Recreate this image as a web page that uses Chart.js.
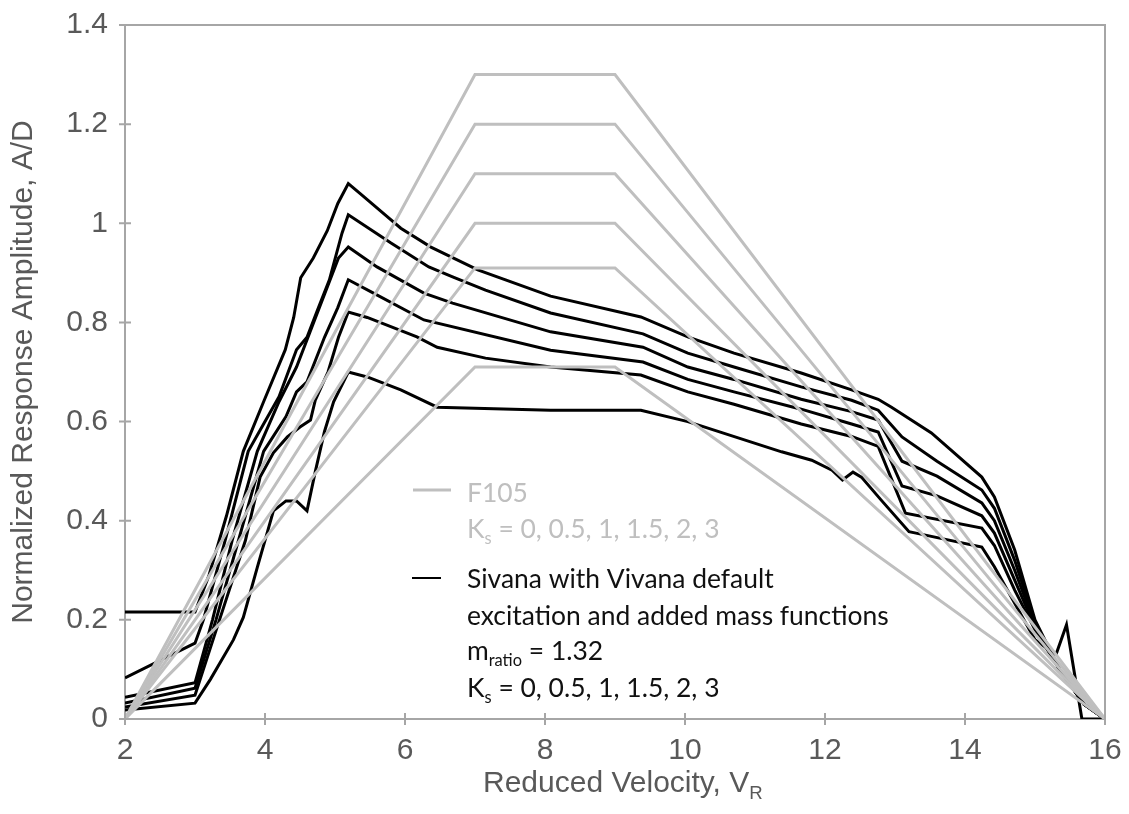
<!DOCTYPE html>
<html>
<head>
<meta charset="utf-8">
<script src="https://cdn.jsdelivr.net/npm/chart.js@4.4.1/dist/chart.umd.min.js"></script>
<style>
  html, body { margin: 0; padding: 0; background: #fff; }
  canvas { display: block; }
</style>
</head>
<body>
<canvas id="vivChart" width="1129" height="814"></canvas>
<script>
// axis ticks
const xTicks = [2, 4, 6, 8, 10, 12, 14, 16];
const xTickLabels = ['2', '4', '6', '8', '10', '12', '14', '16'];
const yTicks = [0, 0.2, 0.4, 0.6, 0.8, 1, 1.2, 1.4];
const yTickLabels = ['0', '0.2', '0.4', '0.6', '0.8', '1', '1.2', '1.4'];

// F105: trapezoid corners along V_R, and the plateau for each K_s
const f105Vr = [2, 7, 9, 16];
const f105Peak = [1.3, 1.2, 1.1, 1.0, 0.91, 0.71];

// Sivana curves [V_R, A/D], highest peak first
const sivana1 = [[2, 0.216], [3.0, 0.216], [3.2, 0.29], [3.45, 0.41], [3.69, 0.54], [3.98, 0.64], [4.29, 0.745], [4.41, 0.81], [4.51, 0.89], [4.69, 0.93], [4.89, 0.985], [5.04, 1.04], [5.19, 1.08], [5.36, 1.06], [5.75, 1.013], [5.94, 0.99], [6.37, 0.952], [7.04, 0.906], [8.08, 0.853], [9.37, 0.811], [10.04, 0.771], [10.7, 0.738], [11.66, 0.698], [12.38, 0.664], [12.76, 0.645], [12.95, 0.629], [13.52, 0.577], [14.24, 0.488], [14.42, 0.448], [14.71, 0.341], [15.0, 0.2], [15.35, 0.1], [15.7, 0.03], [16, 0]];
const sivana2 = [[2, 0.083], [3.0, 0.153], [3.12, 0.2], [3.43, 0.36], [3.76, 0.54], [4.0, 0.6], [4.2, 0.65], [4.45, 0.745], [4.6, 0.77], [4.75, 0.825], [4.92, 0.886], [5.1, 0.98], [5.19, 1.017], [5.8, 0.96], [6.34, 0.912], [6.68, 0.892], [7.15, 0.865], [8.08, 0.819], [9.4, 0.777], [10.04, 0.738], [10.7, 0.71], [11.66, 0.67], [12.38, 0.643], [12.76, 0.623], [13.1, 0.569], [13.6, 0.52], [14.24, 0.462], [14.42, 0.425], [14.71, 0.32], [15.0, 0.195], [15.35, 0.1], [15.7, 0.03], [16, 0]];
const sivana3 = [[2, 0.044], [3.0, 0.073], [3.25, 0.2], [3.53, 0.36], [3.89, 0.54], [4.2, 0.64], [4.45, 0.71], [4.75, 0.82], [5.05, 0.93], [5.19, 0.952], [5.6, 0.912], [6.27, 0.859], [6.68, 0.839], [8.08, 0.781], [9.4, 0.75], [10.04, 0.71], [10.7, 0.685], [11.66, 0.645], [12.38, 0.62], [12.76, 0.603], [13.1, 0.52], [13.6, 0.49], [14.24, 0.436], [14.42, 0.4], [14.71, 0.3], [15.0, 0.19], [15.35, 0.1], [15.7, 0.03], [16, 0]];
const sivana4 = [[2, 0.032], [3.0, 0.062], [3.3, 0.2], [3.62, 0.36], [3.98, 0.54], [4.3, 0.61], [4.45, 0.66], [4.6, 0.68], [4.85, 0.77], [5.04, 0.83], [5.19, 0.886], [5.55, 0.859], [6.27, 0.805], [8.08, 0.744], [9.4, 0.72], [10.04, 0.685], [10.7, 0.66], [11.66, 0.625], [12.38, 0.595], [12.76, 0.579], [13.1, 0.47], [13.6, 0.45], [14.24, 0.41], [14.42, 0.375], [14.71, 0.28], [15.0, 0.185], [15.35, 0.1], [15.7, 0.03], [16, 0]];
const sivana5 = [[2, 0.024], [3.0, 0.048], [3.35, 0.2], [3.72, 0.36], [3.93, 0.488], [4.12, 0.537], [4.32, 0.569], [4.5, 0.589], [4.65, 0.603], [4.72, 0.644], [4.9, 0.7], [5.05, 0.77], [5.19, 0.821], [5.46, 0.81], [6.17, 0.771], [6.46, 0.75], [7.15, 0.728], [8.08, 0.71], [9.37, 0.694], [10.04, 0.66], [10.7, 0.635], [11.66, 0.595], [12.38, 0.57], [12.76, 0.55], [13.15, 0.415], [14.24, 0.385], [14.42, 0.35], [14.71, 0.26], [15.0, 0.18], [15.35, 0.1], [15.7, 0.03], [16, 0]];
const sivana6 = [[2, 0.018], [3.0, 0.032], [3.22, 0.08], [3.55, 0.16], [3.69, 0.205], [3.89, 0.306], [4.03, 0.375], [4.12, 0.42], [4.3, 0.44], [4.45, 0.44], [4.6, 0.42], [4.72, 0.5], [4.85, 0.58], [4.98, 0.64], [5.19, 0.7], [5.46, 0.69], [5.94, 0.664], [6.46, 0.629], [8.08, 0.623], [9.37, 0.623], [10.04, 0.6], [11.38, 0.539], [11.81, 0.522], [12.1, 0.502], [12.25, 0.482], [12.4, 0.498], [12.52, 0.488], [12.8, 0.442], [13.2, 0.378], [13.3, 0.375], [14.24, 0.347], [14.42, 0.307], [15.0, 0.16], [15.3, 0.13], [15.45, 0.19], [15.67, 0], [16, 0]];

const GRAY = '#bfbfbf';
const AXIS = '#a6a6a6';
const TEXT = '#595959';
const AXIS_FONT = { family: 'Liberation Sans', size: 30 };

const datasets = [];
f105Peak.forEach(p => {
  datasets.push({
    label: 'F105',
    data: f105Vr.map((v, j) => ({ x: v, y: (j === 0 || j === f105Vr.length - 1) ? 0 : p })),
    borderColor: GRAY,
    borderWidth: 3,
    order: 0
  });
});
[sivana1, sivana2, sivana3, sivana4, sivana5, sivana6].forEach(c => {
  datasets.push({
    label: 'Sivana',
    data: c.map(([x, y]) => ({ x, y })),
    borderColor: '#000',
    borderWidth: 3,
    order: 1
  });
});

// draw text with optional subscript parts
function richText(ctx, parts, x, y, size, family, color) {
  ctx.fillStyle = color;
  ctx.textBaseline = 'alphabetic';
  ctx.textAlign = 'left';
  parts.forEach(p => {
    const s = p.sub ? size * 0.62 : size;
    ctx.font = s + 'px ' + family;
    ctx.fillText(p.t, x, y + (p.sub ? size * 0.22 : 0));
    x += ctx.measureText(p.t).width;
  });
  return x;
}

const decor = {
  id: 'decor',
  beforeDraw(chart) {
    const ctx = chart.ctx;
    ctx.save();
    ctx.fillStyle = '#fff';
    ctx.fillRect(0, 0, chart.width, chart.height);
    ctx.restore();
  },
  afterDatasetsDraw(chart) {
    const ctx = chart.ctx;
    const a = chart.chartArea;
    const xs = chart.scales.x, ys = chart.scales.y;
    ctx.save();
    ctx.strokeStyle = AXIS;
    ctx.lineWidth = 2;
    ctx.beginPath();
    ctx.moveTo(a.left, a.top); ctx.lineTo(a.right, a.top); ctx.lineTo(a.right, a.bottom);
    // small ticks crossing the axes
    xTicks.forEach(v => {
      const px = xs.getPixelForValue(v);
      ctx.moveTo(px, a.bottom - 6); ctx.lineTo(px, a.bottom + 6);
    });
    yTicks.forEach(v => {
      const py = ys.getPixelForValue(v);
      ctx.moveTo(a.left - 6, py); ctx.lineTo(a.left + 6, py);
    });
    ctx.stroke();
    ctx.restore();
  },
  afterDraw(chart) {
    const ctx = chart.ctx;
    const a = chart.chartArea;
    ctx.save();

    // x axis title with subscript
    ctx.font = '30px Liberation Sans';
    const main = 'Reduced Velocity, V';
    const wMain = ctx.measureText(main).width;
    ctx.font = '19px Liberation Sans';
    const wSub = ctx.measureText('R').width;
    const x0 = (a.left + a.right) / 2 - (wMain + wSub) / 2 + 8;
    richText(ctx, [{ t: main }, { t: 'R', sub: true }], x0, 792, 30, 'Liberation Sans', TEXT);

    // legend, sized to the reference text width
    const fam = 'Lato';
    ctx.font = '100px ' + fam;
    const fs = 100 * 422 / ctx.measureText('excitation and added mass functions').width;
    const tx = 467;

    ctx.strokeStyle = GRAY;
    ctx.lineWidth = 3;
    ctx.beginPath(); ctx.moveTo(413, 490); ctx.lineTo(451, 490); ctx.stroke();
    richText(ctx, [{ t: 'F105' }], tx, 502, fs, fam, GRAY);
    richText(ctx, [{ t: 'K' }, { t: 's', sub: true }, { t: ' = 0, 0.5, 1, 1.5, 2, 3' }], tx, 538, fs, fam, GRAY);

    ctx.strokeStyle = '#000';
    ctx.lineWidth = 2;
    ctx.beginPath(); ctx.moveTo(412, 578); ctx.lineTo(441, 578); ctx.stroke();
    richText(ctx, [{ t: 'Sivana with Vivana default' }], tx, 588, fs, fam, '#111');
    richText(ctx, [{ t: 'excitation and added mass functions' }], tx, 625, fs, fam, '#111');
    richText(ctx, [{ t: 'm' }, { t: 'ratio', sub: true }, { t: ' = 1.32' }], tx, 660, fs, fam, '#111');
    richText(ctx, [{ t: 'K' }, { t: 's', sub: true }, { t: ' = 0, 0.5, 1, 1.5, 2, 3' }], tx, 697, fs, fam, '#111');
    ctx.restore();
  }
};

new Chart(document.getElementById('vivChart'), {
  type: 'scatter',
  data: { datasets },
  options: {
    responsive: false,
    animation: false,
    devicePixelRatio: 1,
    showLine: true,
    elements: {
      point: { radius: 0, hoverRadius: 0 },
      line: { tension: 0, fill: false, borderCapStyle: 'butt', borderJoinStyle: 'miter' }
    },
    layout: { padding: { left: 0, right: 24, top: 25, bottom: 0 } },
    plugins: {
      legend: { display: false },
      tooltip: { enabled: false }
    },
    scales: {
      x: {
        type: 'linear',
        min: 2,
        max: 16,
        afterBuildTicks: s => { s.ticks = xTicks.map(v => ({ value: v })); },
        afterFit: s => { s.height = 95; s.paddingLeft = 0; s.paddingRight = 0; },
        grid: { display: false, drawTicks: false },
        border: { display: true, color: AXIS, width: 2 },
        ticks: {
          color: TEXT,
          font: AXIS_FONT,
          padding: 14,
          maxRotation: 0,
          autoSkip: false,
          callback: (v, i) => xTickLabels[i]
        }
      },
      y: {
        type: 'linear',
        min: 0,
        max: 1.4,
        afterBuildTicks: s => { s.ticks = yTicks.map(v => ({ value: v })); },
        afterFit: s => { s.width = 125; s.paddingTop = 0; s.paddingBottom = 0; },
        grid: { display: false, drawTicks: false },
        border: { display: true, color: AXIS, width: 2 },
        ticks: {
          color: TEXT,
          font: AXIS_FONT,
          padding: 17,
          autoSkip: false,
          callback: (v, i) => yTickLabels[i]
        },
        title: {
          display: true,
          text: 'Normalized Response Amplitude, A/D',
          color: TEXT,
          font: AXIS_FONT,
          padding: { top: 6, bottom: 0 }
        }
      }
    }
  },
  plugins: [decor]
});
</script>
</body>
</html>
